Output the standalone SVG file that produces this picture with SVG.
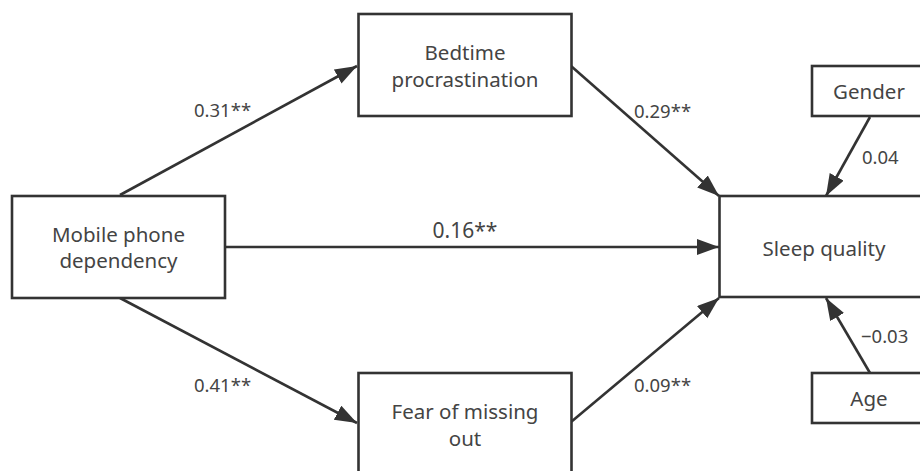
<svg xmlns="http://www.w3.org/2000/svg" width="920" height="471" viewBox="0 0 920 471">
<defs>
<marker id="ah" markerUnits="userSpaceOnUse" markerWidth="24" markerHeight="18" refX="22" refY="8" orient="auto">
<path d="M0,0 L22,8 L0,16 z" fill="#333"/>
</marker>
<style>
.box{fill:#fff;stroke:#333;stroke-width:2.6}
.lbl{font-family:"Noto Sans","Liberation Sans",Arial,sans-serif;font-size:20.5px;fill:#444;text-anchor:middle}
.num{font-family:"Noto Sans","Liberation Sans",Arial,sans-serif;font-size:18.5px;fill:#444}
.edge{stroke:#333;stroke-width:2.6;fill:none;marker-end:url(#ah)}
</style>
</defs>
<rect width="920" height="471" fill="#fff"/>
<g id="connectors">
<line class="edge" x1="120" y1="195" x2="357" y2="66"/>
<line class="edge" x1="571" y1="66" x2="719" y2="196"/>
<line class="edge" x1="870" y1="117" x2="826" y2="196"/>
<line class="edge" x1="225" y1="247" x2="719" y2="247"/>
<line class="edge" x1="120" y1="298" x2="357" y2="423"/>
<line class="edge" x1="571" y1="422" x2="719" y2="298"/>
<line class="edge" x1="870" y1="373" x2="826" y2="298"/>
<text class="num" x="194" y="117">0.31**</text>
<text class="num" x="634" y="118">0.29**</text>
<text class="num" x="862" y="164">0.04</text>
<text class="num" x="465" y="238" text-anchor="middle" style="font-size:21px">0.16**</text>
<text class="num" x="194" y="392">0.41**</text>
<text class="num" x="634" y="392">0.09**</text>
<text class="num" x="861" y="343">−0.03</text>
</g>
<g id="mobile">
<rect class="box" x="12" y="196" width="213" height="102"/>
<text class="lbl" x="118.5" y="242">Mobile phone</text>
<text class="lbl" x="118.5" y="268">dependency</text>
</g>
<g id="bedtime">
<rect class="box" x="358.5" y="14" width="213" height="102"/>
<text class="lbl" x="465" y="60">Bedtime</text>
<text class="lbl" x="465" y="87">procrastination</text>
</g>
<g id="fomo">
<rect class="box" x="358.5" y="373" width="213" height="120"/>
<text class="lbl" x="465" y="419">Fear of missing</text>
<text class="lbl" x="465" y="446">out</text>
</g>
<g id="sleep">
<rect class="box" x="719.5" y="196" width="220" height="101"/>
<text class="lbl" x="824" y="256">Sleep quality</text>
</g>
<g id="gender">
<rect class="box" x="812" y="66" width="130" height="50"/>
<text class="lbl" x="869" y="99">Gender</text>
</g>
<g id="age">
<rect class="box" x="812" y="373" width="130" height="50"/>
<text class="lbl" x="869" y="406">Age</text>
</g>
</svg>
